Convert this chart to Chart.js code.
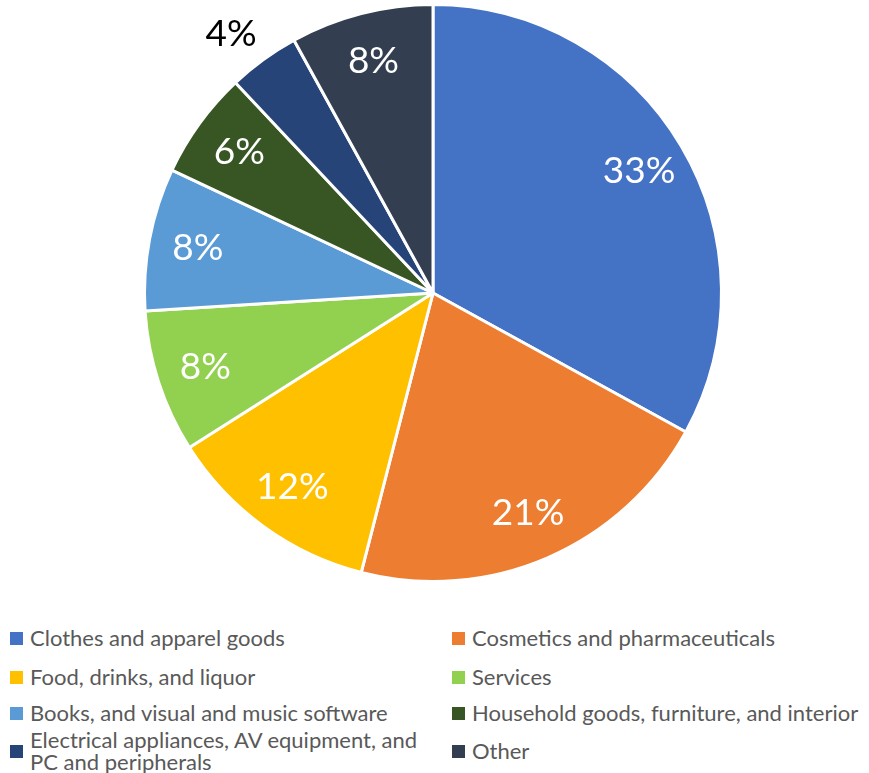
<!DOCTYPE html>
<html>
<head>
<meta charset="utf-8">
<script src="https://cdn.jsdelivr.net/npm/chart.js@4"></script>
<style>
  html, body { margin: 0; padding: 0; background: #fff; }
  #wrap { position: relative; width: 869px; height: 773px; }
  #chartBox { position: absolute; left: 0; top: 0; width: 869px; height: 588px; }
  #legend { position: absolute; left: 0; top: 622px; width: 869px; font-family: Lato, "Noto Sans", sans-serif; font-size: 22px; color: #595959; }
  .item { position: absolute; display: flex; align-items: center; line-height: 22px; }
  .box { width: 13px; height: 13px; margin-right: 7px; flex: none; }
</style>
</head>
<body>
<div id="wrap">
  <div id="chartBox"><canvas id="pie"></canvas></div>
  <div id="legend"></div>
</div>
<script>
const categories = [
  'Clothes and apparel goods',
  'Cosmetics and pharmaceuticals',
  'Food, drinks, and liquor',
  'Services',
  'Books, and visual and music software',
  'Household goods, furniture, and interior',
  'Electrical appliances, AV equipment, and PC and peripherals',
  'Other'
];
const shares = [33, 21, 12, 8, 8, 6, 4, 8];
const colors = ['#4472C4', '#ED7D31', '#FFC000', '#92D050', '#5B9BD5', '#375623', '#264478', '#333F50'];

// legend cells: [left, centre y] for each category, two columns
const legendSpots = [[10, 16], [452, 16], [10, 55], [452, 55], [10, 91], [452, 91], [10, 129], [452, 129]];

// percentages drawn on each slice; small ones sit outside in black
const sliceLabels = {
  id: 'sliceLabels',
  afterDatasetsDraw(chart) {
    const ctx = chart.ctx;
    const meta = chart.getDatasetMeta(0);
    ctx.save();
    ctx.font = '37px Lato, "Noto Sans", sans-serif';
    ctx.textAlign = 'center';
    ctx.textBaseline = 'middle';
    meta.data.forEach((arc, i) => {
      const p = arc.getProps(['x', 'y', 'startAngle', 'endAngle', 'outerRadius'], true);
      const mid = (p.startAngle + p.endAngle) / 2;
      const outside = shares[i] < 5;
      const r = p.outerRadius * (outside ? 1.12 : 0.83);
      ctx.fillStyle = outside ? '#000000' : '#FFFFFF';
      ctx.fillText(shares[i] + '%', p.x + Math.cos(mid) * r - (outside ? 12 : 0), p.y + Math.sin(mid) * r + (outside ? 2 : 0));
    });
    ctx.restore();
  }
};

new Chart(document.getElementById('pie'), {
  type: 'pie',
  data: {
    labels: categories,
    datasets: [{
      data: shares,
      backgroundColor: colors,
      borderColor: '#FFFFFF',
      borderWidth: 3
    }]
  },
  options: {
    responsive: true,
    maintainAspectRatio: false,
    animation: false,
    layout: { padding: { top: 3, bottom: 5, left: 0, right: 3 } },
    plugins: {
      legend: { display: false },
      tooltip: { enabled: false }
    }
  },
  plugins: [sliceLabels]
});

const legend = document.getElementById('legend');
categories.forEach((name, i) => {
  const item = document.createElement('div');
  item.className = 'item';
  item.style.left = legendSpots[i][0] + 'px';
  item.style.top = legendSpots[i][1] + 'px';
  item.style.transform = 'translateY(-50%)';
  if (i === 6) item.style.width = '425px';
  item.innerHTML = '<span class="box" style="background:' + colors[i] + '"></span><span>' + name + '</span>';
  legend.appendChild(item);
});
</script>
</body>
</html>
